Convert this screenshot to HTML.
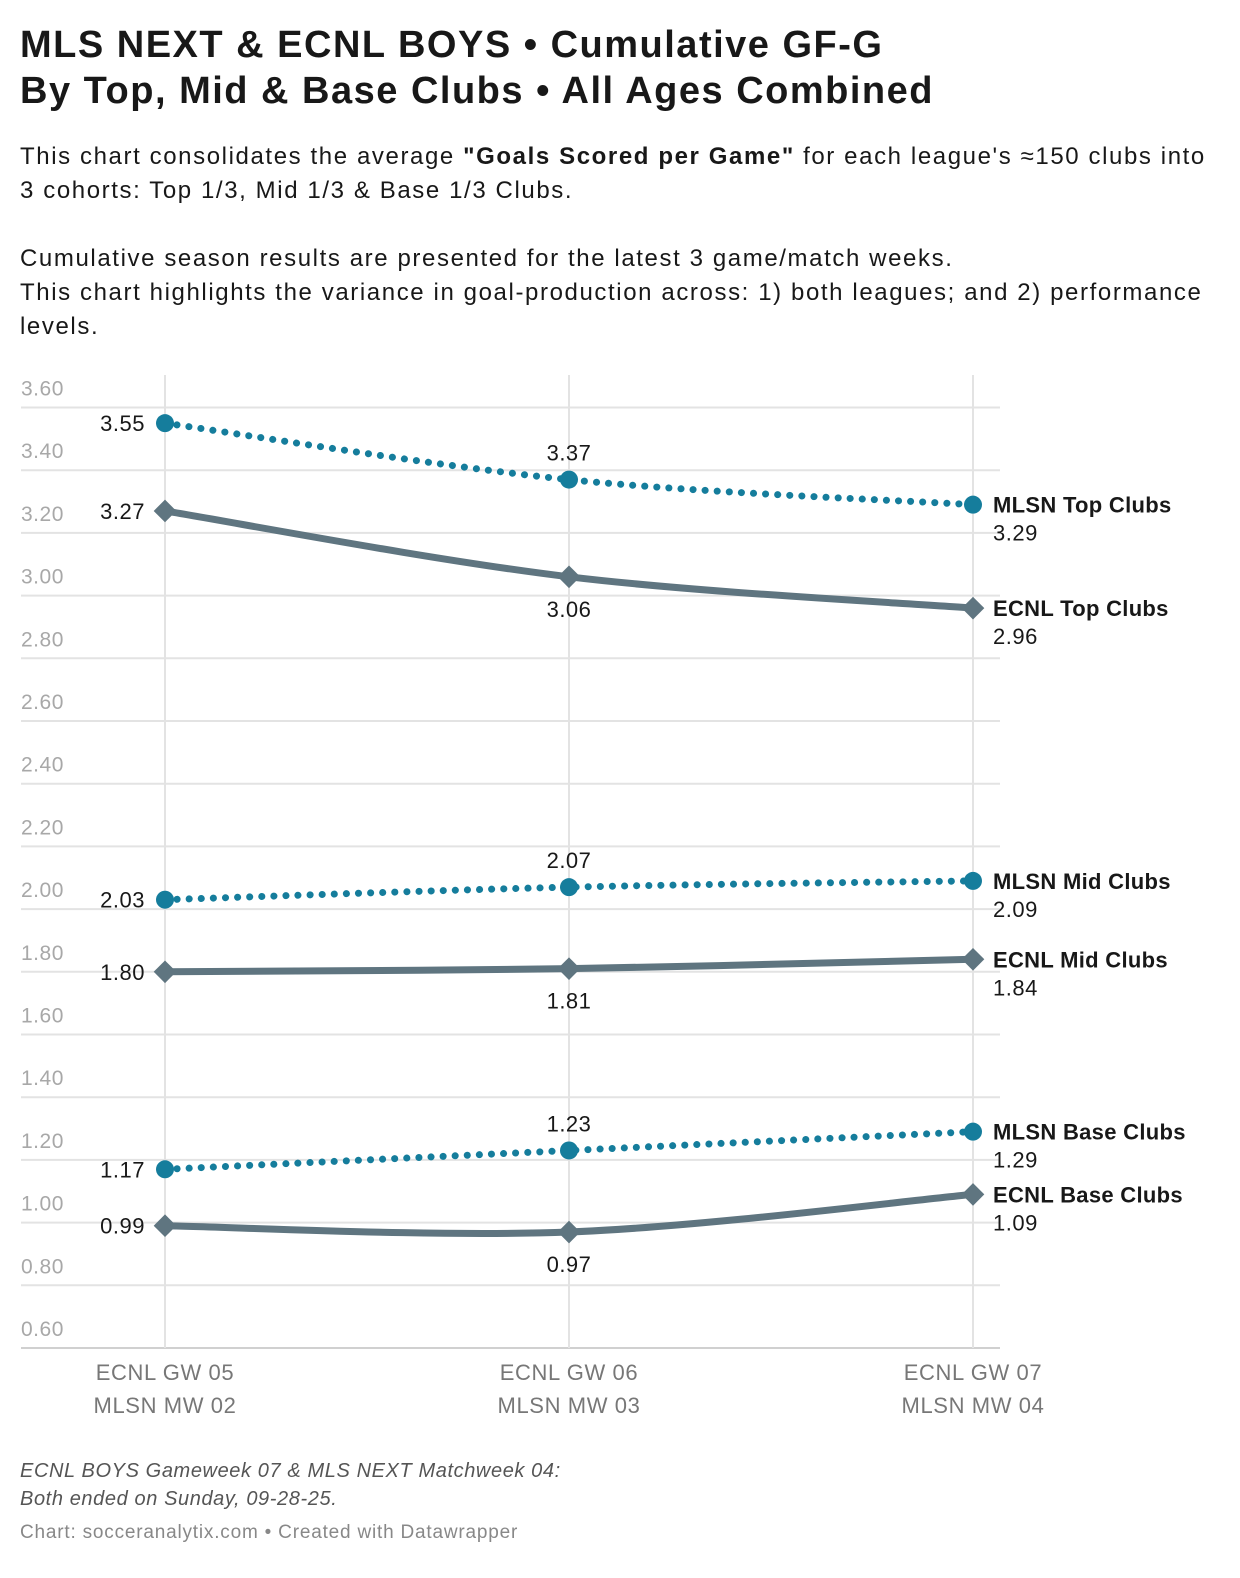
<!DOCTYPE html>
<html><head><meta charset="utf-8"><style>
body{margin:0;background:#fff;font-family:"Liberation Sans",sans-serif;color:#181818;width:1240px;height:1578px;overflow:hidden;position:relative}
h1{position:absolute;left:20px;top:22px;margin:0;font-size:38px;line-height:46px;font-weight:bold;letter-spacing:1.5px;white-space:nowrap}
.desc{position:absolute;left:20px;top:140px;font-size:24px;line-height:34px;width:1220px;letter-spacing:1.6px;white-space:nowrap}
.note{position:absolute;left:20px;top:1457px;font-size:20px;line-height:28px;font-style:italic;color:#555;letter-spacing:0.6px}
.cred{position:absolute;left:20px;top:1522px;font-size:19px;color:#888;letter-spacing:0.8px}
svg{position:absolute;left:0;top:0}
</style></head><body>
<h1>MLS NEXT &amp; ECNL BOYS • Cumulative GF-G<br>By Top, Mid &amp; Base Clubs • All Ages Combined</h1>
<div class="desc">This chart consolidates the average <b>"Goals Scored per Game"</b> for each league's ≈150 clubs into<br>3 cohorts: Top 1/3, Mid 1/3 &amp; Base 1/3 Clubs.<br><br>Cumulative season results are presented for the latest 3 game/match weeks.<br>This chart highlights the variance in goal-production across: 1) both leagues; and 2) performance<br>levels.</div>
<svg id="chart" width="1240" height="1578"></svg>
<div class="note">ECNL BOYS Gameweek 07 &amp; MLS NEXT Matchweek 04:<br>Both ended on Sunday, 09-28-25.</div>
<div class="cred">Chart: socceranalytix.com • Created with Datawrapper</div>
<script>
const categories=[["ECNL GW 05","MLSN MW 02"],["ECNL GW 06","MLSN MW 03"],["ECNL GW 07","MLSN MW 04"]];
const yTicks=[3.6,3.4,3.2,3.0,2.8,2.6,2.4,2.2,2.0,1.8,1.6,1.4,1.2,1.0,0.8,0.6];
const seriesNames=["MLSN Top Clubs","ECNL Top Clubs","MLSN Mid Clubs","ECNL Mid Clubs","MLSN Base Clubs","ECNL Base Clubs"];
const mlsnTop=[3.55,3.37,3.29];
const ecnlTop=[3.27,3.06,2.96];
const mlsnMid=[2.03,2.07,2.09];
const ecnlMid=[1.80,1.81,1.84];
const mlsnBase=[1.17,1.23,1.29];
const ecnlBase=[0.99,0.97,1.09];
const series=[mlsnTop,ecnlTop,mlsnMid,ecnlMid,mlsnBase,ecnlBase];
const svg=document.getElementById('chart');const NS='http://www.w3.org/2000/svg';
const x=i=>165+i*404;
const y=v=>407.5+(3.6-v)*313.5;
function mk(t,a,txt){const e=document.createElementNS(NS,t);for(const k in a)e.setAttribute(k,a[k]);if(txt!==undefined)e.textContent=txt;svg.appendChild(e);return e;}
yTicks.forEach(t=>{
const g=mk('line',{x1:21,x2:1000,y1:y(t),y2:y(t),stroke:t===0.6?'#d0d0d0':'#e3e3e3','stroke-width':2});


const l=mk('text',{x:21,y:y(t)-12,'font-size':21,fill:'#a8a8a8','font-family':'Liberation Sans','letter-spacing':'0.5'},t.toFixed(2));


});
categories.forEach((c,i)=>{
const g=mk('line',{x1:x(i),x2:x(i),y1:375,y2:y(0.6),stroke:'#e3e3e3','stroke-width':2});


c.forEach((s,j)=>{const t=mk('text',{x:x(i),y:1380+j*33,'font-size':22,fill:'#777','text-anchor':'middle','font-family':'Liberation Sans','letter-spacing':'0.6'},s);

});
});
function path(vals){const p=vals.map((v,i)=>[x(i),y(v)]);let d='M'+p[0];
for(let i=0;i<p.length-1;i++){const p0=p[i-1]||p[i],p1=p[i],p2=p[i+1],p3=p[i+2]||p2;
const c1=[p1[0]+(p2[0]-p0[0])/6,p1[1]+(p2[1]-p0[1])/6],c2=[p2[0]-(p3[0]-p1[0])/6,p2[1]-(p3[1]-p1[1])/6];
d+=' C'+c1+' '+c2+' '+p2;}return d;}
series.forEach((vals,si)=>{
const mlsn=si%2===0;const col=mlsn?'#157d9c':'#5f7580';
const ln=mk('path',{d:path(vals),fill:'none',stroke:col,'stroke-width':7,'stroke-linecap':'round','stroke-dasharray':mlsn?'0.1 12':'none'});


vals.forEach((v,i)=>{let m;
if(mlsn)m=mk('circle',{cx:x(i),cy:y(v),r:9,fill:col});
else m=mk('rect',{x:x(i)-8,y:y(v)-8,width:16,height:16,fill:col,transform:`rotate(45 ${x(i)} ${y(v)})`});


let tx,ty,anc='middle';
if(i===0){tx=x(i)-20;ty=y(v)+8;anc='end';}
else if(i===1){tx=x(i);ty=mlsn?y(v)-19:y(v)+40;}
else{tx=993;ty=y(v)+36;anc='start';}
const t=mk('text',{x:tx,y:ty,'font-size':22,fill:'#181818','text-anchor':anc,'font-family':'Liberation Sans','letter-spacing':'0.5'},v.toFixed(2));


});
const n=mk('text',{x:993,y:y(vals[2])+8,'font-size':22,'font-weight':'bold',fill:'#181818','font-family':'Liberation Sans','letter-spacing':'0.3'},seriesNames[si]);


});
</script>
</body></html>
